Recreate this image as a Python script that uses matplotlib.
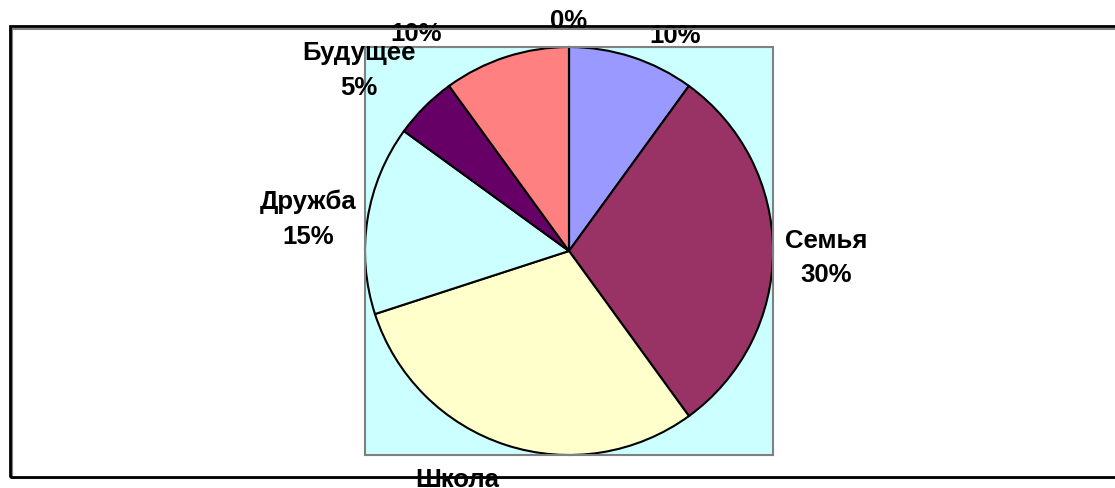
import matplotlib.pyplot as plt
from matplotlib.patches import Rectangle

# data
categories = ["", "Семья", "Школа", "Дружба", "Будущее", "", ""]
values = [10, 30, 30, 15, 5, 10, 0]
colors = ["#9999FF", "#993366", "#FFFFCC", "#CCFFFF", "#660066", "#FF8080", "#0066CC"]

# label centres in pie units (radius = 1), as Excel placed them
label_pos = [(0.52, 1.06), (1.26, -0.03), (-0.55, -1.20), (-1.28, 0.16),
             (-1.03, 0.89), (-0.75, 1.07), (0.0, 1.13)]

plt.rcParams['font.family'] = ['Liberation Sans', 'DejaVu Sans']

W, H = 1115, 489
fig = plt.figure(figsize=(W / 100, H / 100), dpi=100)

# outer chart frame with a grey shadow
fig.patches.append(Rectangle((12 / W, 10 / H), 1.2, (H - 40) / H, transform=fig.transFigure,
                             fill=False, edgecolor="#808080", linewidth=1.5, zorder=0))
fig.patches.append(Rectangle((10 / W, 11 / H), 1.2, (H - 38) / H, transform=fig.transFigure,
                             fill=False, edgecolor="black", linewidth=2, zorder=1))

# plot area
cx, cy, r = 569, 252, 204
ax = fig.add_axes([(cx - r) / W, (H - cy - r) / H, 2 * r / W, 2 * r / H])

total = sum(values)
ax.pie(values, colors=colors, startangle=90, counterclock=False, radius=1,
       wedgeprops=dict(edgecolor="black", linewidth=1.5))
ax.set_frame_on(True)
ax.set_facecolor("#CCFFFF")
ax.set_xlim(-1, 1)
ax.set_ylim(-1, 1)
ax.set_aspect("equal")
ax.set_xticks([])
ax.set_yticks([])
for s in ax.spines.values():
    s.set_visible(True)
    s.set_edgecolor("#808080")
    s.set_linewidth(1.5)

for name, v, (x, y) in zip(categories, values, label_pos):
    pct = f"{round(100 * v / total)}%"
    txt = f"{name}\n{pct}" if name else pct
    ax.text(x, y, txt, ha="center", va="center", fontsize=18.5, fontweight="bold",
            linespacing=1.55, clip_on=False)

fig.savefig("out.png", dpi=100)
